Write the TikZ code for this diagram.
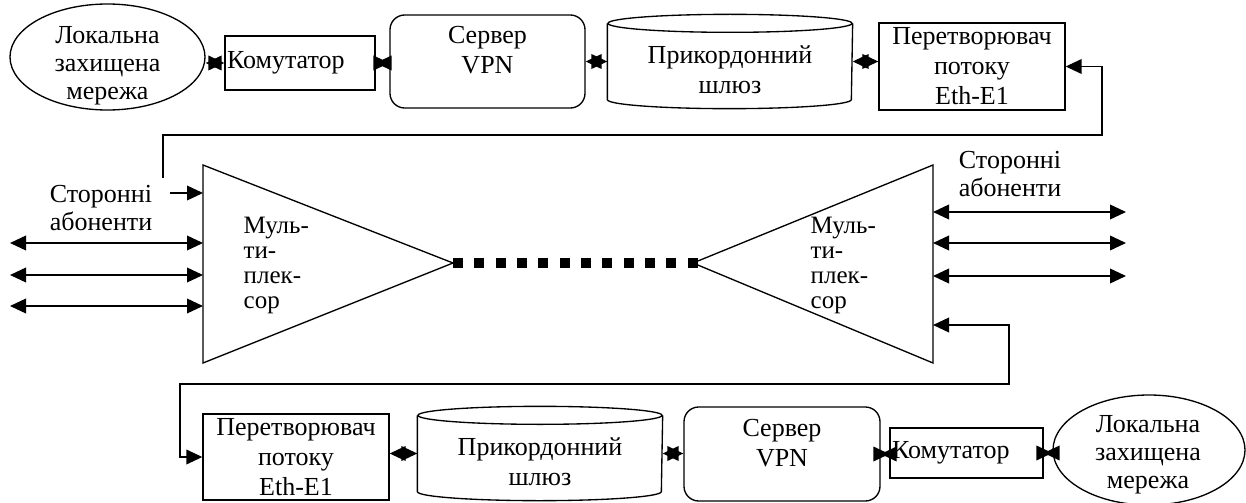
\documentclass[tikz,border=0pt]{standalone}
\usepackage{fontspec}
\setmainfont{Liberation Serif}
\usetikzlibrary{arrows.meta,shapes.geometric,calc}
\newdimen\pxu \pxu=0.75pt
\newcommand{\mainfs}{\fontsize{19.5pt}{22.5pt}\selectfont}
\newcommand{\ellfs}{\fontsize{19.5pt}{21pt}\selectfont}
\newcommand{\muxfs}{\fontsize{18.75pt}{18.75pt}\selectfont}
% short two-headed connector between two anchors: each head drawn from the midpoint
\newcommand{\shortconn}[2]{%
  \draw[sgl] ($(#1)!0.5!(#2)$) -- (#1);
  \draw[sgl] ($(#1)!0.5!(#2)$) -- (#2);}
\begin{document}
\begin{tikzpicture}[x=0.75pt, y=-0.75pt, line width=1pt,
  box/.style={draw, line width=1pt, inner sep=0pt, font=\mainfs, align=center},
  txt/.style={inner sep=0pt, font=\mainfs, align=center},
  muxtxt/.style={inner sep=0pt, font=\muxfs, align=left, anchor=west},
  dbl/.style={line width=1.2pt, {Triangle[length=12pt,width=11pt]}-{Triangle[length=12pt,width=11pt]}},
  sgl/.style={line width=1.2pt, -{Triangle[length=12pt,width=11pt]}},
  cylbody/.style={line width=1pt}
]
\useasboundingbox (0,0) rectangle (1246,503);

% ---------- top row ----------
\node[box, ellipse, minimum width=195\pxu, minimum height=106\pxu] (lan1) at (107.5,57) {};
\node[txt, font=\ellfs] (lan1t) at (107.5,66) {Локальна\\захищена\\мережа};
\node[box, minimum width=150\pxu, minimum height=54\pxu, text width=146\pxu, align=left, inner xsep=2\pxu] (kom1) at (300,63) {Комутатор};
\node[box, rounded corners=11pt, minimum width=195\pxu, minimum height=93\pxu] (srv1) at (487.5,61.5) {};
\node[txt] (srv1t) at (487.5,50) {Сервер\\VPN};
\node[minimum width=244\pxu, minimum height=93\pxu, inner sep=0pt] (cyl1) at (730,61.5) {};
\draw[cylbody] ([yshift=-9\pxu]cyl1.north) ellipse [x radius=122\pxu, y radius=9\pxu];
\draw[cylbody] ([yshift=-9\pxu]cyl1.north west) -- ([yshift=9\pxu]cyl1.south west)
  arc[start angle=180, end angle=360, x radius=122\pxu, y radius=9\pxu] -- ([yshift=-9\pxu]cyl1.north east);
\node[txt] (cyl1t) at (730,70) {Прикордонний\\шлюз};
\node[box, minimum width=186\pxu, minimum height=87\pxu] (per1) at (972,66.5) {Перетворювач\\потоку\\Eth-E1};

\shortconn{kom1.west}{kom1.west -| lan1.east}
\shortconn{kom1.east}{kom1.east -| srv1.west}
\shortconn{srv1.east}{srv1.east -| cyl1.west}
\shortconn{cyl1.east}{cyl1.east -| per1.west}

% top loop
\coordinate (l1a) at (163,178);
\coordinate (l1b) at (1102,135);
\draw[sgl] (l1a) |- (l1b) |- (per1.east);

% ---------- multiplexers ----------
\coordinate (t1a) at (203,165);
\coordinate (t1b) at (203,363);
\coordinate (t1c) at (453,263);
\draw (t1a) -- (t1c) -- (t1b) -- cycle;
\coordinate (t2a) at (933,165);
\coordinate (t2b) at (933,363);
\coordinate (t2c) at (693,263);
\draw (t2a) -- (t2c) -- (t2b) -- cycle;
\node[muxtxt] (mux1t) at (243,265.5) {Муль-\\ти-\\плек-\\сор};
\node[muxtxt] (mux2t) at (810,265.5) {Муль-\\ти-\\плек-\\сор};

\draw[line width=7.5pt, dash pattern=on 7.5pt off 8.5pt, shorten >=-3.5pt] (t1c) -- (t2c);

% left subscribers
\node[txt, font=\ellfs] (st1) at (101,208) {Сторонні\\абоненти};
\coordinate (s1) at (170,193);
\draw[sgl] (s1) -- (s1 -| t1a);
\foreach \yy/\nn in {243/1,275/2,306/3}{
  \coordinate (la\nn) at (10,\yy);
  \coordinate (lb\nn) at (203,\yy);
  \draw[dbl] (la\nn) -- (lb\nn);
}
% right subscribers
\node[txt, font=\ellfs] (st2) at (1010,174) {Сторонні\\абоненти};
\foreach \yy/\nn in {212/1,243/2,276/3}{
  \coordinate (ra\nn) at (933,\yy);
  \coordinate (rb\nn) at (1126,\yy);
  \draw[dbl] (ra\nn) -- (rb\nn);
}

% ---------- bottom row ----------
\node[box, minimum width=186\pxu, minimum height=86\pxu] (per2) at (296,457) {Перетворювач\\потоку\\Eth-E1};
\node[minimum width=244\pxu, minimum height=93\pxu, inner sep=0pt] (cyl2) at (540,453.5) {};
\draw[cylbody] ([yshift=-9\pxu]cyl2.north) ellipse [x radius=122\pxu, y radius=9\pxu];
\draw[cylbody] ([yshift=-9\pxu]cyl2.north west) -- ([yshift=9\pxu]cyl2.south west)
  arc[start angle=180, end angle=360, x radius=122\pxu, y radius=9\pxu] -- ([yshift=-9\pxu]cyl2.north east);
\node[txt] (cyl2t) at (540,462) {Прикордонний\\шлюз};
\node[box, rounded corners=11pt, minimum width=196\pxu, minimum height=94\pxu] (srv2) at (782,454) {};
\node[txt] (srv2t) at (782,443) {Сервер\\VPN};
\node[box, minimum width=153\pxu, minimum height=50\pxu, text width=149\pxu, align=left, inner xsep=2\pxu] (kom2) at (966.5,453) {Комутатор};
\node[box, ellipse, minimum width=192\pxu, minimum height=110\pxu] (lan2) at (1149,450) {};
\node[txt, font=\ellfs] (lan2t) at (1148,455) {Локальна\\захищена\\мережа};

\shortconn{cyl2.west}{cyl2.west -| per2.east}
\shortconn{cyl2.east}{cyl2.east -| srv2.west}
\shortconn{srv2.east}{srv2.east -| kom2.west}
\shortconn{kom2.east}{kom2.east -| lan2.west}

% bottom loop
\coordinate (m2in) at (933,325);
\coordinate (l2b) at (1009,384);
\coordinate (l2c) at (180,384);
\draw[dbl] (m2in) -| (l2b) -- (l2c) |- (per2.west);
\end{tikzpicture}
\end{document}
